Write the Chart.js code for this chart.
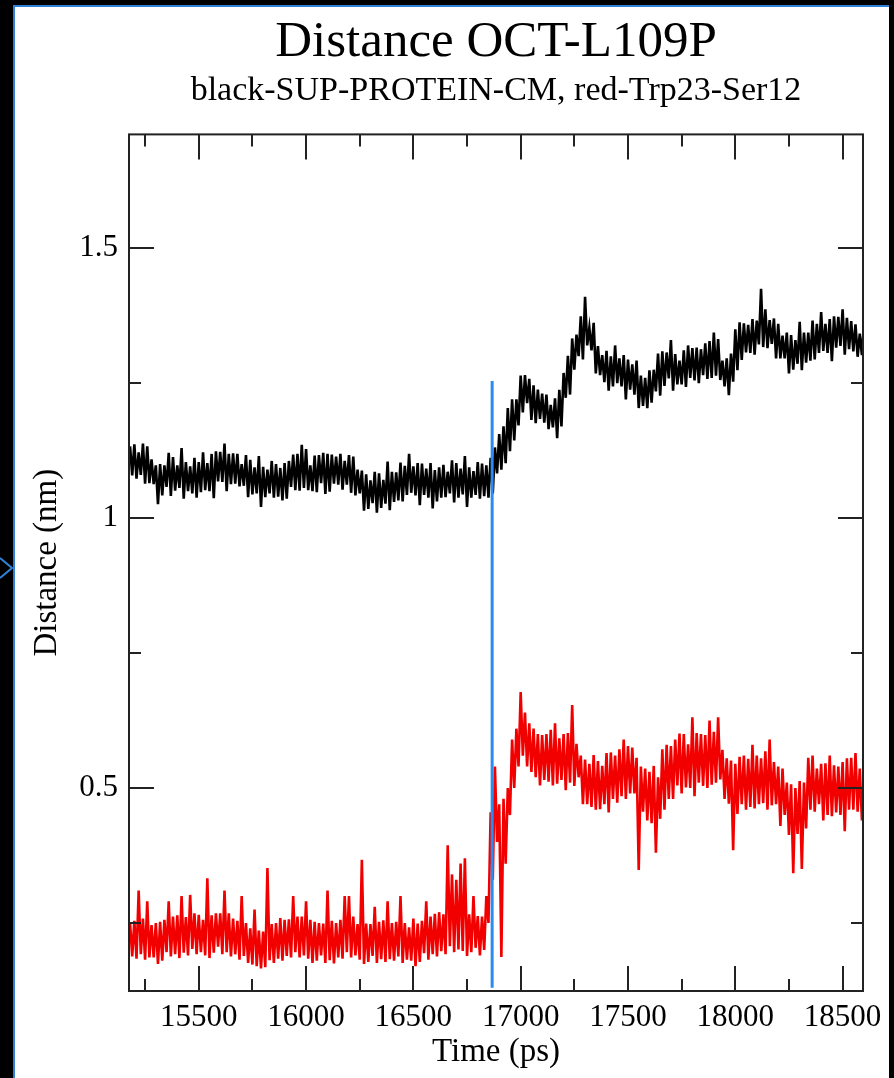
<!DOCTYPE html>
<html><head><meta charset="utf-8">
<script src="https://cdn.jsdelivr.net/npm/chart.js@4.4.1/dist/chart.umd.min.js"></script>
<style>
html,body{margin:0;padding:0;background:#000;width:894px;height:1078px;overflow:hidden;}
#panel{position:absolute;left:13px;top:5px;width:874px;height:1073px;background:#fff;border-left:2px solid #2f7fd6;border-top:2px solid #2f7fd6;}
#c{position:absolute;left:0;top:0;}
#arrow{position:absolute;left:0;top:556px;}
</style></head><body>
<div id="panel"></div>
<svg id="arrow" width="14" height="24"><polyline points="0,2 12,12 0,22" fill="none" stroke="#2f86e0" stroke-width="2"/></svg>
<canvas id="c" width="894" height="1078"></canvas>
<script>
const TITLE = 'Distance OCT-L109P';
const SUBTITLE = 'black-SUP-PROTEIN-CM, red-Trp23-Ser12';
const X_TITLE = 'Time (ps)';
const Y_TITLE = 'Distance (nm)';

// sampling grid: one value every 10 ps from 15180 ps
const TIME_START = 15180;
const TIME_STEP = 10;

// black series: SUP-PROTEIN-CM distance (nm)
const blackValues = [
1.133,1.079,1.137,1.073,1.122,1.080,1.138,1.064,1.133,1.065,1.109,1.063,
1.098,1.026,1.100,1.042,1.098,1.058,1.121,1.041,1.113,1.051,1.098,1.056,
1.130,1.036,1.104,1.050,1.096,1.046,1.112,1.038,1.104,1.048,1.122,1.052,
1.102,1.050,1.119,1.037,1.124,1.068,1.123,1.067,1.138,1.050,1.119,1.063,
1.120,1.064,1.119,1.059,1.100,1.060,1.117,1.039,1.108,1.044,1.094,1.046,
1.115,1.021,1.095,1.039,1.090,1.046,1.106,1.038,1.100,1.040,1.093,1.033,
1.102,1.036,1.106,1.058,1.118,1.052,1.119,1.051,1.136,1.056,1.128,1.052,
1.098,1.050,1.116,1.048,1.117,1.065,1.121,1.045,1.119,1.049,1.118,1.064,
1.114,1.062,1.119,1.053,1.106,1.062,1.117,1.047,1.114,1.042,1.090,1.046,
1.088,1.014,1.081,1.017,1.070,1.028,1.086,1.010,1.083,1.019,1.071,1.027,
1.105,1.015,1.086,1.030,1.085,1.033,1.103,1.031,1.097,1.043,1.119,1.047,
1.096,1.042,1.102,1.024,1.101,1.043,1.092,1.038,1.102,1.018,1.089,1.031,
1.094,1.038,1.099,1.039,1.086,1.046,1.107,1.029,1.102,1.038,1.092,1.044,
1.115,1.021,1.094,1.038,1.087,1.043,1.104,1.036,1.101,1.041,1.098,1.038,
1.112,1.046,1.131,1.083,1.156,1.090,1.170,1.102,1.204,1.124,1.220,1.144,
1.220,1.172,1.264,1.196,1.265,1.213,1.258,1.182,1.246,1.176,1.238,1.184,
1.231,1.177,1.229,1.165,1.210,1.168,1.222,1.148,1.238,1.170,1.269,1.223,
1.301,1.229,1.333,1.275,1.340,1.300,1.374,1.294,1.410,1.320,1.353,1.311,
1.362,1.268,1.319,1.265,1.302,1.252,1.310,1.236,1.300,1.244,1.320,1.250,
1.296,1.244,1.302,1.220,1.294,1.238,1.285,1.229,1.292,1.204,1.264,1.208,
1.260,1.204,1.274,1.214,1.275,1.235,1.305,1.227,1.309,1.245,1.307,1.259,
1.330,1.236,1.304,1.248,1.292,1.248,1.311,1.243,1.320,1.260,1.315,1.255,
1.316,1.250,1.313,1.265,1.324,1.258,1.328,1.260,1.344,1.264,1.332,1.256,
1.292,1.244,1.296,1.228,1.305,1.253,1.350,1.274,1.363,1.293,1.361,1.307,
1.358,1.306,1.369,1.303,1.366,1.322,1.425,1.317,1.387,1.315,1.367,1.323,
1.370,1.296,1.360,1.296,1.338,1.296,1.344,1.268,1.339,1.275,1.330,1.286,
1.364,1.274,1.344,1.288,1.344,1.292,1.366,1.294,1.360,1.306,1.382,1.310,
1.360,1.306,1.369,1.291,1.374,1.316,1.373,1.319,1.387,1.303,1.371,1.313,
1.365,1.309,1.359,1.299,1.342,1.302,1.360,1.282
];

// red series: Trp23-Ser12 distance (nm)
const redValues = [
0.250,0.188,0.254,0.184,0.310,0.192,0.258,0.182,0.290,0.186,0.246,0.186,
0.250,0.174,0.252,0.180,0.256,0.196,0.290,0.188,0.262,0.192,0.264,0.185,
0.300,0.195,0.261,0.190,0.302,0.202,0.268,0.192,0.265,0.196,0.256,0.190,
0.333,0.185,0.264,0.195,0.268,0.206,0.268,0.192,0.310,0.196,0.268,0.188,
0.258,0.192,0.254,0.182,0.300,0.189,0.250,0.176,0.240,0.173,0.275,0.170,
0.236,0.166,0.234,0.168,0.352,0.181,0.248,0.176,0.250,0.184,0.259,0.180,
0.256,0.189,0.257,0.186,0.300,0.196,0.262,0.186,0.262,0.190,0.290,0.184,
0.256,0.176,0.252,0.180,0.250,0.190,0.249,0.176,0.310,0.181,0.254,0.175,
0.250,0.186,0.256,0.184,0.300,0.196,0.300,0.186,0.262,0.190,0.248,0.182,
0.367,0.174,0.249,0.178,0.248,0.189,0.280,0.176,0.252,0.183,0.255,0.178,
0.290,0.183,0.250,0.180,0.252,0.188,0.300,0.176,0.250,0.182,0.242,0.180,
0.258,0.170,0.249,0.178,0.254,0.194,0.290,0.182,0.262,0.192,0.267,0.188,
0.270,0.198,0.266,0.192,0.394,0.207,0.340,0.196,0.330,0.201,0.360,0.198,
0.370,0.189,0.266,0.196,0.300,0.204,0.263,0.190,0.262,0.200,0.300,0.250,
0.455,0.330,0.540,0.400,0.470,0.187,0.480,0.360,0.500,0.450,0.590,0.500,
0.610,0.540,0.678,0.560,0.640,0.540,0.620,0.530,0.610,0.520,0.600,0.505,
0.598,0.515,0.600,0.512,0.608,0.505,0.620,0.508,0.592,0.515,0.600,0.496,
0.602,0.510,0.654,0.504,0.582,0.520,0.560,0.470,0.553,0.470,0.545,0.465,
0.561,0.460,0.550,0.461,0.541,0.470,0.565,0.455,0.566,0.480,0.560,0.473,
0.572,0.485,0.590,0.480,0.578,0.490,0.575,0.490,0.556,0.348,0.540,0.456,
0.536,0.440,0.530,0.435,0.541,0.380,0.520,0.443,0.572,0.460,0.580,0.480,
0.578,0.480,0.590,0.505,0.601,0.490,0.600,0.501,0.581,0.500,0.631,0.485,
0.602,0.510,0.600,0.504,0.598,0.500,0.625,0.506,0.604,0.510,0.631,0.516,
0.571,0.480,0.555,0.471,0.551,0.385,0.545,0.452,0.558,0.470,0.560,0.460,
0.554,0.465,0.580,0.462,0.560,0.470,0.555,0.472,0.568,0.460,0.590,0.468,
0.548,0.470,0.540,0.430,0.536,0.450,0.510,0.413,0.507,0.342,0.500,0.415,
0.513,0.350,0.510,0.425,0.556,0.460,0.560,0.456,0.536,0.470,0.545,0.440,
0.546,0.450,0.560,0.448,0.542,0.455,0.540,0.450,0.548,0.420,0.555,0.460,
0.556,0.460,0.565,0.456,0.536,0.440,0.540,0.440
];

// vertical marker (blue line)
const markerTime = [16867, 16867];
const markerValues = [1.254, 0.130];

const xTicks = [15500, 16000, 16500, 17000, 17500, 18000, 18500];
const yTicks = [0.5, 1, 1.5];

const times = blackValues.map((_, i) => TIME_START + i * TIME_STEP);
const toPts = (xs, ys) => ys.map((v, i) => ({x: xs[i], y: v}));

const FONT = 'Liberation Serif, Times New Roman, serif';

const framePlugin = {
  id: 'frame',
  afterDatasetsDraw(chart) {
    const {ctx, chartArea: a, scales: {x, y}} = chart;
    ctx.save();
    ctx.strokeStyle = '#222';
    ctx.lineWidth = 2;
    ctx.strokeRect(a.left, a.top, a.right - a.left, a.bottom - a.top);
    const MAJ = 25, MIN = 12;
    ctx.beginPath();
    const xv = x.ticks.map(t => t.value);
    const xs = xv[1] - xv[0];
    xv.forEach(v => {
      const p = Math.round(x.getPixelForValue(v));
      ctx.moveTo(p, a.bottom); ctx.lineTo(p, a.bottom - MAJ);
      ctx.moveTo(p, a.top); ctx.lineTo(p, a.top + MAJ);
    });
    for (let v = xv[0] - xs / 2; v <= x.max; v += xs) {
      if (v < x.min) continue;
      const p = Math.round(x.getPixelForValue(v));
      ctx.moveTo(p, a.bottom); ctx.lineTo(p, a.bottom - MIN);
      ctx.moveTo(p, a.top); ctx.lineTo(p, a.top + MIN);
    }
    const yv = y.ticks.map(t => t.value);
    const ys = yv[1] - yv[0];
    yv.forEach(v => {
      const p = Math.round(y.getPixelForValue(v));
      ctx.moveTo(a.left, p); ctx.lineTo(a.left + MAJ, p);
      ctx.moveTo(a.right, p); ctx.lineTo(a.right - MAJ, p);
    });
    for (let v = yv[0] - ys / 2; v <= y.max; v += ys) {
      if (v < y.min) continue;
      const p = Math.round(y.getPixelForValue(v));
      ctx.moveTo(a.left, p); ctx.lineTo(a.left + MIN, p);
      ctx.moveTo(a.right, p); ctx.lineTo(a.right - MIN, p);
    }
    ctx.stroke();
    ctx.restore();
  }
};

new Chart(document.getElementById('c'), {
  type: 'scatter',
  data: {
    datasets: [
      {label: 'marker', data: toPts(markerTime, markerValues), showLine: true, borderColor: '#2a8cf0', borderWidth: 3, pointRadius: 0, order: 0},
      {label: 'SUP-PROTEIN-CM', data: toPts(times, blackValues), showLine: true, borderColor: '#000000', borderWidth: 2.6, pointRadius: 0, tension: 0, order: 1},
      {label: 'Trp23-Ser12', data: toPts(times, redValues), showLine: true, borderColor: '#f20000', borderWidth: 2.6, pointRadius: 0, tension: 0, order: 2}
    ]
  },
  options: {
    responsive: false,
    animation: false,
    devicePixelRatio: 1,
    layout: {padding: {left: 0, right: 31, top: 0, bottom: 0}},
    plugins: {
      legend: {display: false},
      tooltip: {enabled: false},
      title: {display: true, text: TITLE, fullSize: false, color: '#000',
        font: {family: FONT, size: 51, weight: 'normal', lineHeight: 1.0}, padding: {top: 17.5, bottom: 0}},
      subtitle: {display: true, text: SUBTITLE, fullSize: false, color: '#000',
        font: {family: FONT, size: 34, weight: 'normal', lineHeight: 1.2}, padding: {top: 2, bottom: 23.1}}
    },
    scales: {
      x: {
        type: 'linear', min: 15175, max: 18595,
        grid: {display: false, drawTicks: false}, border: {display: false},
        afterBuildTicks(s) { s.ticks = xTicks.map(v => ({value: v})); },
        ticks: {autoSkip: false, maxRotation: 0, padding: 8, color: '#000',
          font: {family: FONT, size: 31}, callback: v => String(v)},
        title: {display: true, text: X_TITLE, color: '#000', font: {family: FONT, size: 33}, padding: {top: 0, bottom: 6}},
        afterFit(s) { s.height = 87; }
      },
      y: {
        type: 'linear', min: 0.124, max: 1.711,
        grid: {display: false, drawTicks: false}, border: {display: false},
        afterBuildTicks(s) { s.ticks = yTicks.map(v => ({value: v})); },
        ticks: {autoSkip: false, padding: 11, color: '#000',
          font: {family: FONT, size: 31}, callback: v => String(v)},
        title: {display: true, text: Y_TITLE, color: '#000', font: {family: FONT, size: 33}, padding: {top: 28, bottom: 0}},
        afterFit(s) { s.width = 129; }
      }
    }
  },
  plugins: [framePlugin]
});
</script>
</body></html>
